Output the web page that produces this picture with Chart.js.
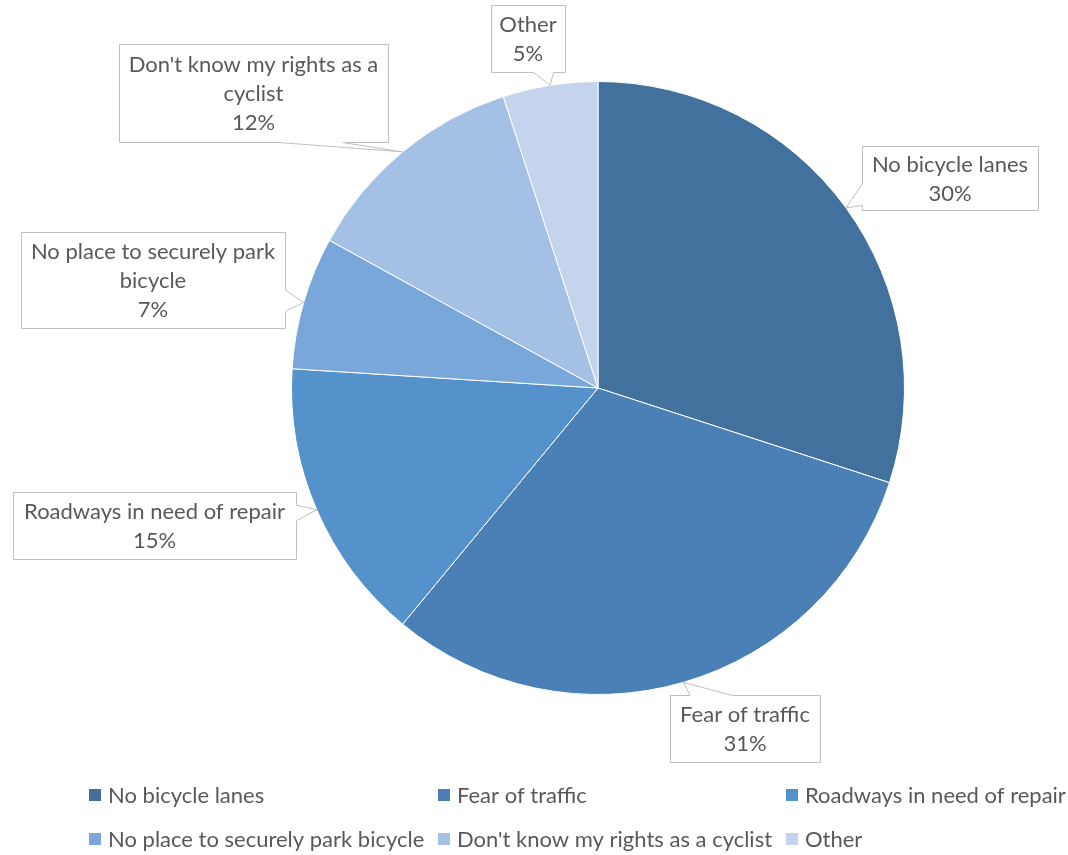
<!DOCTYPE html>
<html>
<head>
<meta charset="utf-8">
<script src="https://cdn.jsdelivr.net/npm/chart.js@4/dist/chart.umd.min.js"></script>
<style>
	html, body { margin: 0; padding: 0; background: #ffffff; }
	canvas { display: block; }
</style>
</head>
<body>
<canvas id="chart" width="1068" height="855"></canvas>
<script>
const categories = ['No bicycle lanes', 'Fear of traffic', 'Roadways in need of repair', 'No place to securely park bicycle', "Don't know my rights as a cyclist", 'Other'];
const shares = [30, 31, 15, 7, 12, 5];
const sliceColors = ['#41719c', '#4a80b6', '#5592cb', '#7aa7d9', '#a4c0e4', '#c3d4ec'];

// callout boxes (layout only): box, side the pointer leaves from, and where on that side
const callouts = [
	{ x: 862, y: 146, w: 176, h: 64, side: 'left', from: 0.58, to: 0.92 },
	{ x: 670, y: 695, w: 150, h: 67, side: 'top', from: 0.13, to: 0.41 },
	{ x: 13, y: 492, w: 283, h: 67, side: 'right', from: 0.19, to: 0.42 },
	{ x: 21, y: 232, w: 264, h: 96, side: 'right', from: 0.6, to: 0.82 },
	{ x: 119, y: 44, w: 269, h: 98, side: 'bottom', from: 0.59, to: 0.83 },
	{ x: 491, y: 5, w: 74, h: 67, side: 'bottom', from: 0.57, to: 0.84 }
];

const FONT = '22px Lato, "Liberation Sans", sans-serif';
const TEXT_COLOR = '#595959';
const LINE_HEIGHT = 29;

function wrapText(ctx, text, maxWidth) {
	const words = text.split(' ');
	const lines = [];
	let line = '';

	words.forEach((word) => {
		const test = line ? line + ' ' + word : word;
		if (line && ctx.measureText(test).width > maxWidth) {
			lines.push(line);
			line = word;
		} else {
			line = test;
		}
	});

	if (line) {
		lines.push(line);
	}

	return lines;
}

function calloutPath(ctx, box, tip) {
	const x = box.x + 0.5;
	const y = box.y + 0.5;
	const w = box.w;
	const h = box.h;

	ctx.beginPath();
	ctx.moveTo(x, y);
	if (box.side === 'top') {
		ctx.lineTo(x + w * box.from, y);
		ctx.lineTo(tip.x, tip.y);
		ctx.lineTo(x + w * box.to, y);
	}
	ctx.lineTo(x + w, y);
	if (box.side === 'right') {
		ctx.lineTo(x + w, y + h * box.from);
		ctx.lineTo(tip.x, tip.y);
		ctx.lineTo(x + w, y + h * box.to);
	}
	ctx.lineTo(x + w, y + h);
	if (box.side === 'bottom') {
		ctx.lineTo(x + w * box.to, y + h);
		ctx.lineTo(tip.x, tip.y);
		ctx.lineTo(x + w * box.from, y + h);
	}
	ctx.lineTo(x, y + h);
	if (box.side === 'left') {
		ctx.lineTo(x, y + h * box.to);
		ctx.lineTo(tip.x, tip.y);
		ctx.lineTo(x, y + h * box.from);
	}
	ctx.closePath();
}

const calloutPlugin = {
	id: 'callouts',
	afterDatasetsDraw(chart) {
		const ctx = chart.ctx;
		const meta = chart.getDatasetMeta(0);
		const values = chart.data.datasets[0].data;
		const total = values.reduce((sum, value) => sum + value, 0);

		ctx.save();
		ctx.font = FONT;

		meta.data.forEach((arc, index) => {
			const box = callouts[index];
			if (!box) {
				return;
			}

			const props = arc.getProps(['x', 'y', 'startAngle', 'endAngle', 'outerRadius'], true);
			const mid = (props.startAngle + props.endAngle) / 2;
			const tip = {
				x: props.x + Math.cos(mid) * props.outerRadius,
				y: props.y + Math.sin(mid) * props.outerRadius
			};

			calloutPath(ctx, box, tip);
			ctx.fillStyle = '#ffffff';
			ctx.fill();
			ctx.strokeStyle = '#bfbfbf';
			ctx.lineWidth = 1;
			ctx.stroke();

			const lines = wrapText(ctx, String(chart.data.labels[index]), box.w - 6);
			lines.push(Math.round(values[index] / total * 100) + '%');

			ctx.fillStyle = TEXT_COLOR;
			ctx.textAlign = 'center';
			ctx.textBaseline = 'middle';
			const cx = box.x + box.w / 2;
			const firstY = box.y + box.h / 2 - (lines.length - 1) * LINE_HEIGHT / 2 + 1;
			lines.forEach((text, i) => {
				ctx.fillText(text, cx, firstY + i * LINE_HEIGHT);
			});
		});

		ctx.restore();
	}
};

const gridLegendPlugin = {
	id: 'gridLegend',
	afterDraw(chart) {
		const ctx = chart.ctx;
		const colors = chart.data.datasets[0].backgroundColor;
		const columns = [89, 438, 786];
		const rows = [795, 839];

		ctx.save();
		ctx.font = FONT;
		ctx.textAlign = 'left';
		ctx.textBaseline = 'middle';

		chart.data.labels.forEach((label, index) => {
			const left = columns[index % columns.length];
			const mid = rows[Math.floor(index / columns.length)];

			ctx.fillStyle = colors[index];
			ctx.fillRect(left, mid - 6, 12, 12);
			ctx.fillStyle = TEXT_COLOR;
			ctx.fillText(label, left + 19, mid + 1);
		});

		ctx.restore();
	}
};

new Chart(document.getElementById('chart').getContext('2d'), {
	type: 'pie',
	data: {
		labels: categories,
		datasets: [{
			data: shares,
			backgroundColor: sliceColors,
			borderColor: '#ffffff',
			borderWidth: 1
		}]
	},
	options: {
		responsive: false,
		animation: false,
		devicePixelRatio: 1,
		layout: {
			padding: { top: 81, bottom: 160, left: 291, right: 163 }
		},
		plugins: {
			legend: { display: false },
			tooltip: { enabled: false }
		}
	},
	plugins: [calloutPlugin, gridLegendPlugin]
});
</script>
</body>
</html>
